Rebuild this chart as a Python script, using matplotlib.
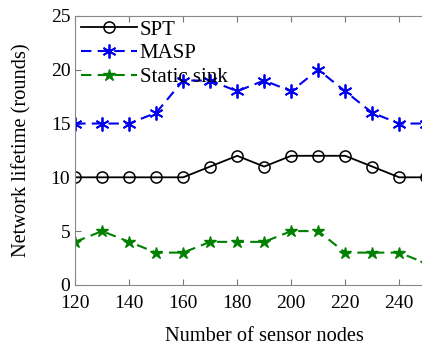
import matplotlib
matplotlib.use('Agg')
import matplotlib.pyplot as plt

plt.rcParams['font.family'] = ['Liberation Serif', 'DejaVu Serif']

# Data
nodes = [120, 130, 140, 150, 160, 170, 180, 190, 200, 210, 220, 230, 240, 250]
spt = [10, 10, 10, 10, 10, 11, 12, 11, 12, 12, 12, 11, 10, 10]
masp = [15, 15, 15, 16, 19, 19, 18, 19, 18, 20, 18, 16, 15, 15]
static_sink = [4, 5, 4, 3, 3, 4, 4, 4, 5, 5, 3, 3, 3, 2]

fig = plt.figure(figsize=(4.22, 3.47), dpi=100)
# axes runs past the right edge, like the cropped original
ax = fig.add_axes([0.178, 0.179, 0.896, 0.775])

ax.plot(nodes, spt, color='black', lw=1.3, marker='o', ms=8, mfc='none',
        mew=1.1, label='SPT')
ax.plot(nodes, masp, color='#0000ee', lw=1.5, ls='--', dashes=(5, 3),
        marker=(6, 2, 0), ms=10, mew=1.3, label='MASP')
ax.plot(nodes, static_sink, color='#008000', lw=1.5, ls='--', dashes=(5, 3),
        marker='*', ms=9, label='Static sink')

ax.set_xlim(120, 260)
ax.set_ylim(0, 25)
ax.set_xticks(range(120, 241, 20))
ax.set_yticks(range(0, 26, 5))
ax.tick_params(direction='in', labelsize=14, top=True, right=False,
               color='#777777', length=4)
ax.tick_params(axis='x', pad=7)
for s in ax.spines.values():
    s.set_color('#888888')

ax.set_xlabel('Number of sensor nodes', fontsize=14.7, labelpad=11)
ax.set_ylabel('Network lifetime (rounds)', fontsize=14.7, labelpad=14)

ax.legend(loc='upper left', bbox_to_anchor=(0.005, 1.0), frameon=False,
          fontsize=15, handlelength=2.7, borderaxespad=0, borderpad=0.2,
          labelspacing=0.2, handletextpad=0.1)

fig.savefig('out.png', dpi=100)
